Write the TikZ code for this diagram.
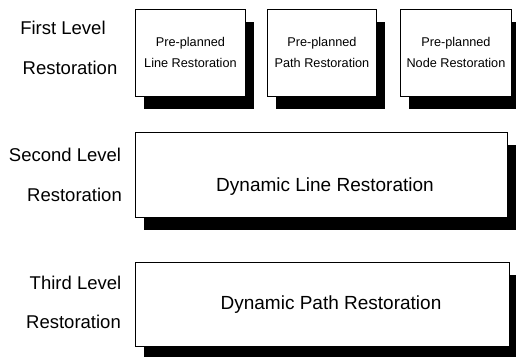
\documentclass[tikz,border=0pt]{standalone}
\usepackage{fontspec}
\setmainfont{Liberation Sans}
\usetikzlibrary{shadows}
\begin{document}
\begin{tikzpicture}[x=1pt,y=-1pt,
  box/.style={draw=black, line width=0.9pt, fill=white, inner sep=0pt, anchor=north west,
    drop shadow={shadow xshift=9pt, shadow yshift=-13pt, fill=black, opacity=1}},
  smalltext/.style={align=center, font=\fontsize{12.7}{21}\selectfont},
  bigtext/.style={anchor=base, font=\fontsize{19}{23}\selectfont},
  lvl/.style={anchor=base, font=\fontsize{18.5}{22}\selectfont}]
\useasboundingbox (0,0) rectangle (516,356);
% first level
\node[box, smalltext, minimum width=110pt, minimum height=87.5pt] (b1) at (135,8.5) {Pre-planned\\Line Restoration};
\node[box, smalltext, minimum width=109pt, minimum height=87.5pt] (b2) at (267,8.5) {Pre-planned\\Path Restoration};
\node[box, smalltext, minimum width=111pt, minimum height=87.5pt] (b3) at (400,8.5) {Pre-planned\\Node Restoration};
% second level
\node[box, minimum width=372pt, minimum height=85pt] (b4) at (135,132) {};
\node[bigtext] (t4) at (325,191.8) {Dynamic Line Restoration};
% third level
\node[box, minimum width=374pt, minimum height=84pt] (b5) at (135,262) {};
\node[bigtext] (t5) at (331,309.8) {Dynamic Path Restoration};
% level labels
\node[lvl] (l1a) at (63,34.6) {First Level};
\node[lvl] (l1b) at (70,74.6) {Restoration};
\node[lvl] (l2a) at (65,161.6) {Second Level};
\node[lvl] (l2b) at (74.5,201.6) {Restoration};
\node[lvl] (l3a) at (75.5,289.6) {Third Level};
\node[lvl] (l3b) at (73.5,328.6) {Restoration};
\end{tikzpicture}
\end{document}
